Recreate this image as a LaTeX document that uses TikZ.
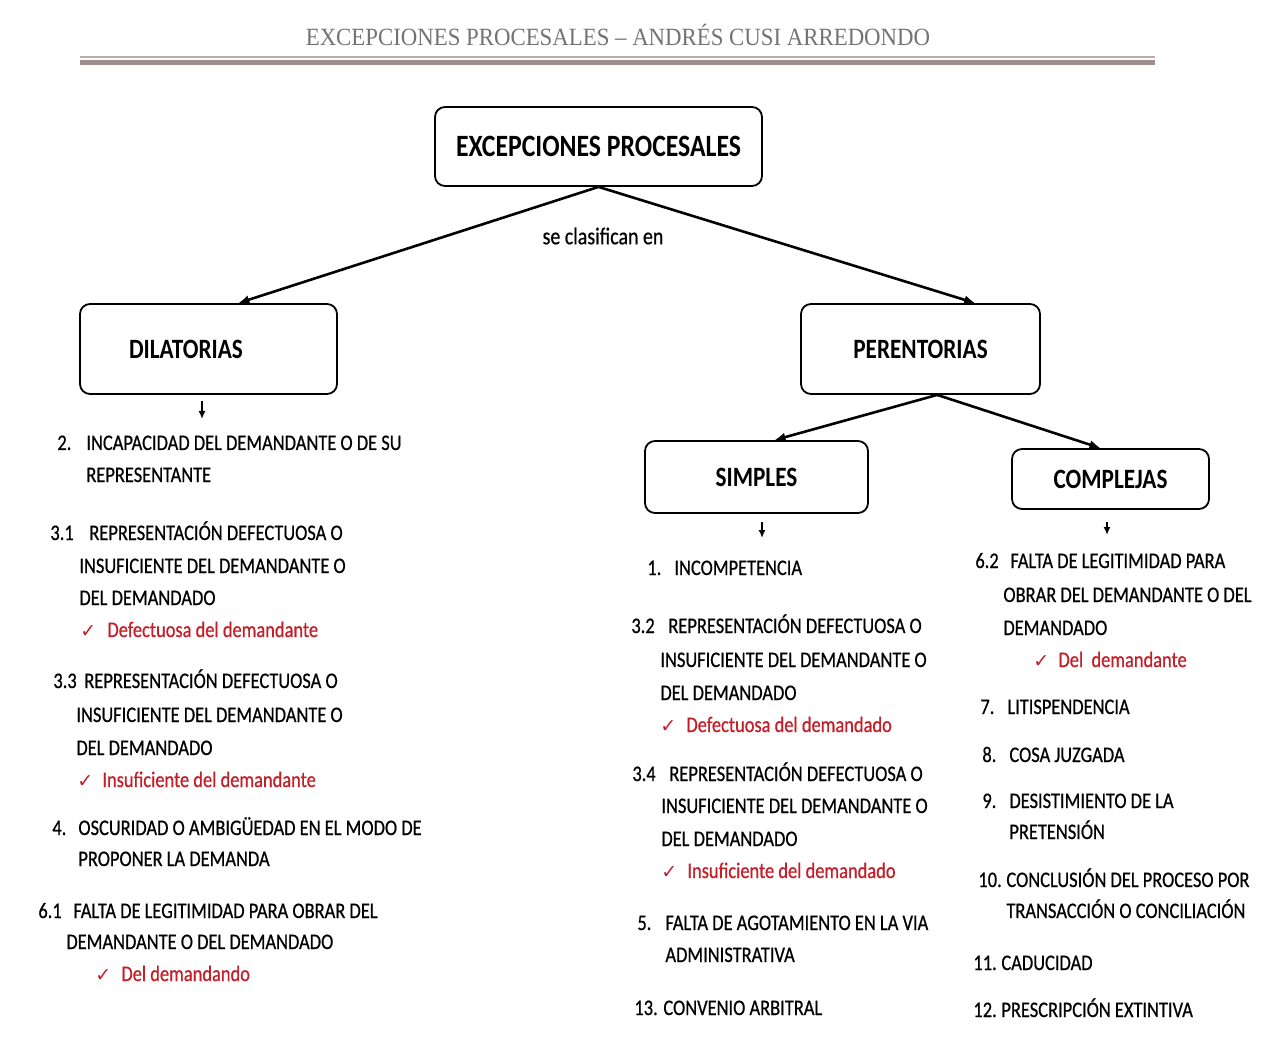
\documentclass[tikz,border=0pt]{standalone}
\usepackage{fontspec}
\setmainfont{Carlito}[FakeStretch=0.83]
\newfontfamily\bodyfont{Carlito}[FakeStretch=0.83, FakeBold=0.6]
\newfontfamily\headfont{Liberation Serif}[FakeStretch=0.92]
\newfontfamily\symfont{DejaVu Sans}
\usetikzlibrary{arrows.meta}

\definecolor{checkred}{RGB}{196,30,40}
\definecolor{headgray}{RGB}{115,115,115}
\definecolor{rulethin}{RGB}{190,172,172}
\definecolor{rulethick}{RGB}{160,142,142}

\begin{document}
\begin{tikzpicture}[ x = 0.5pt
                     , y = -0.5pt
                     , every node/.style = { inner sep = 0pt }
                     % Use latex style arrows
                     , >={Latex[width=4.5pt, length=5.5pt]}
                     ]

  %%
  %% Node types
  %%
  \tikzset{ box/.style={ rectangle, rounded corners=5pt, draw=black, line width=0.9pt
                       , align=center, font=\fontsize{14}{16}\selectfont\bfseries}
          , rootbox/.style={box, font=\fontsize{15.5}{18}\selectfont\bfseries}
          , txt/.style={anchor=base west, font=\fontsize{11.1}{13}\selectfont\bodyfont}
          , chk/.style={txt, text=checkred, font=\fontsize{9.5}{11}\selectfont\symfont}
          , sub/.style={txt, text=checkred}
          }

  %%
  %% Arrow types
  %%
  \tikzset{ branch/.style={->, line width=1.3pt}
          , down/.style={-{Latex[width=3.5pt, length=4pt]}, line width=0.8pt}
          }

  \useasboundingbox (0,0) rectangle (1267,1063);

  %%
  %% Header
  %%
  \node (head) at (618,35) [text=headgray, font=\fontsize{12.4}{14}\selectfont\headfont]
    {EXCEPCIONES PROCESALES – ANDRÉS CUSI ARREDONDO};
  \draw[rulethin, line width=0.8pt] (80,57) -- (1155,57);
  \draw[rulethick, line width=2.5pt] (80,62.5) -- (1155,62.5);

  %%
  %% Boxes
  %%
  \node (root) at (598.5,146.5) [rootbox, minimum width=163.5pt, minimum height=39.5pt] {EXCEPCIONES PROCESALES};
  \node (dil)  at (208.5,349)   [box, align=left, inner xsep=24.5pt, text width=79.5pt, minimum height=45pt] {DILATORIAS};
  \node (per)  at (920.5,349)   [box, minimum width=119.5pt, minimum height=45pt] {PERENTORIAS};
  \node (sim)  at (756.5,477)   [box, minimum width=111.5pt, minimum height=36pt] {SIMPLES};
  \node (com)  at (1110.5,479)  [box, minimum width=98.5pt,  minimum height=30pt] {COMPLEJAS};

  \node (cls) at (603,236) [font=\fontsize{12}{14}\selectfont\bodyfont] {se clasifican en};

  %%
  %% Dilatorias
  %%
  \node (n2)   at (57,450)  [txt] {2.};
  \node (t2a)  at (86,450)  [txt] {INCAPACIDAD DEL DEMANDANTE O DE SU};
  \node (t2b)  at (86,482)  [txt] {REPRESENTANTE};

  \node (n31)  at (50,540)  [txt] {3.1};
  \node (t31a) at (89,540)  [txt] {REPRESENTACIÓN DEFECTUOSA O};
  \node (t31b) at (79,573)  [txt] {INSUFICIENTE DEL DEMANDANTE O};
  \node (t31c) at (79,605)  [txt] {DEL DEMANDADO};
  \node (c31)  at (80,637)  [chk] {✓};
  \node (r31)  at (107,637) [sub] {Defectuosa del demandante};

  \node (n33)  at (53,688)  [txt] {3.3};
  \node (t33a) at (84,688)  [txt] {REPRESENTACIÓN DEFECTUOSA O};
  \node (t33b) at (76,722)  [txt] {INSUFICIENTE DEL DEMANDANTE O};
  \node (t33c) at (76,755)  [txt] {DEL DEMANDADO};
  \node (c33)  at (77,787)  [chk] {✓};
  \node (r33)  at (102,787) [sub] {Insuficiente del demandante};

  \node (n4)   at (52,835)  [txt] {4.};
  \node (t4a)  at (78,835)  [txt] {OSCURIDAD O AMBIGÜEDAD EN EL MODO DE};
  \node (t4b)  at (78,866)  [txt] {PROPONER LA DEMANDA};

  \node (n61)  at (38,918)  [txt] {6.1};
  \node (t61a) at (73,918)  [txt] {FALTA DE LEGITIMIDAD PARA OBRAR DEL};
  \node (t61b) at (66,949)  [txt] {DEMANDANTE O DEL DEMANDADO};
  \node (c61)  at (95,981)  [chk] {✓};
  \node (r61)  at (121,981) [sub] {Del demandando};

  %%
  %% Simples
  %%
  \node (n1)   at (647,575) [txt] {1.};
  \node (t1)   at (674,575) [txt] {INCOMPETENCIA};

  \node (n32)  at (631,633) [txt] {3.2};
  \node (t32a) at (668,633) [txt] {REPRESENTACIÓN DEFECTUOSA O};
  \node (t32b) at (660,667) [txt] {INSUFICIENTE DEL DEMANDANTE O};
  \node (t32c) at (660,700) [txt] {DEL DEMANDADO};
  \node (c32)  at (660,732) [chk] {✓};
  \node (r32)  at (686,732) [sub] {Defectuosa del demandado};

  \node (n34)  at (632,781) [txt] {3.4};
  \node (t34a) at (669,781) [txt] {REPRESENTACIÓN DEFECTUOSA O};
  \node (t34b) at (661,813) [txt] {INSUFICIENTE DEL DEMANDANTE O};
  \node (t34c) at (661,846) [txt] {DEL DEMANDADO};
  \node (c34)  at (661,878) [chk] {✓};
  \node (r34)  at (687,878) [sub] {Insuficiente del demandado};

  \node (n5)   at (637,930) [txt] {5.};
  \node (t5a)  at (665,930) [txt] {FALTA DE AGOTAMIENTO EN LA VIA};
  \node (t5b)  at (665,962) [txt] {ADMINISTRATIVA};

  \node (n13)  at (634,1015) [txt] {13.};
  \node (t13)  at (663,1015) [txt] {CONVENIO ARBITRAL};

  %%
  %% Complejas
  %%
  \node (n62)  at (975,568)  [txt] {6.2};
  \node (t62a) at (1010,568) [txt] {FALTA DE LEGITIMIDAD PARA};
  \node (t62b) at (1003,602) [txt] {OBRAR DEL DEMANDANTE O DEL};
  \node (t62c) at (1003,635) [txt] {DEMANDADO};
  \node (c62)  at (1033,667) [chk] {✓};
  \node (r62)  at (1058,667) [sub] {Del\ \ demandante};

  \node (n7)   at (980,714)  [txt] {7.};
  \node (t7)   at (1007,714) [txt] {LITISPENDENCIA};

  \node (n8)   at (982,762)  [txt] {8.};
  \node (t8)   at (1009,762) [txt] {COSA JUZGADA};

  \node (n9)   at (982,808)  [txt] {9.};
  \node (t9a)  at (1009,808) [txt] {DESISTIMIENTO DE LA};
  \node (t9b)  at (1009,839) [txt] {PRETENSIÓN};

  \node (n10)  at (978,887)  [txt] {10.};
  \node (t10a) at (1006,887) [txt] {CONCLUSIÓN DEL PROCESO POR};
  \node (t10b) at (1006,918) [txt] {TRANSACCIÓN O CONCILIACIÓN};

  \node (n11)  at (973,970)  [txt] {11.};
  \node (t11)  at (1001,970) [txt] {CADUCIDAD};

  \node (n12)  at (973,1017) [txt] {12.};
  \node (t12)  at (1001,1017) [txt] {PRESCRIPCIÓN EXTINTIVA};

  %%
  %% Relationships between nodes
  %%
  \draw[branch] (root.south) -- (dil.57);
  \draw[branch] (root.south) -- (per.40);
  \draw[branch] (per.-70) -- (sim.64);
  \draw[branch] (per.-70) -- (com.108);

  %%% Small arrows under the boxes
  \coordinate (dilend) at (202,419);
  \coordinate (simend) at (762,538);
  \coordinate (comend) at (1107,535);
  \draw[down, shorten <=3pt] (dil.south -| dilend) -- (dilend);
  \draw[down, shorten <=4pt] (sim.south -| simend) -- (simend);
  \draw[down, shorten <=6pt] (com.south -| comend) -- (comend);

\end{tikzpicture}
\end{document}
